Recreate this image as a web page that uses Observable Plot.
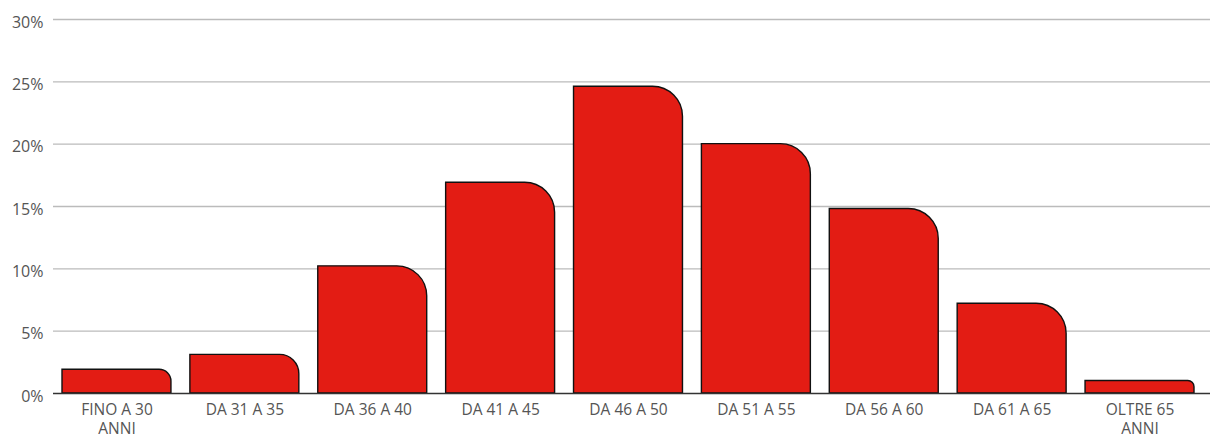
<!DOCTYPE html>
<html>
<head>
<meta charset="utf-8">
<script src="https://cdn.jsdelivr.net/npm/d3@7"></script>
<script src="https://cdn.jsdelivr.net/npm/@observablehq/plot@0.6"></script>
<style>
  html, body { margin: 0; padding: 0; background: #fff; }
  #chart svg { display: block; }
</style>
</head>
<body>
<div id="chart"></div>
<script>
const categories = ["FINO A 30\nANNI", "DA 31 A 35", "DA 36 A 40", "DA 41 A 45", "DA 46 A 50", "DA 51 A 55", "DA 56 A 60", "DA 61 A 65", "OLTRE 65\nANNI"];
const values = [1.9, 3.1, 10.2, 16.9, 24.6, 20.0, 14.8, 7.2, 1.0];
const yTicks = [0, 5, 10, 15, 20, 25, 30];

const data = categories.map((c, i) => ({category: c, value: values[i]}));

function roundedTopRight(index, scales, vals, dimensions, context, next) {
  const g = d3.create("svg:g");
  const xs = vals.x, y1 = vals.y1, y2 = vals.y2;
  const bw = typeof scales.x.bandwidth === "function" ? scales.x.bandwidth() : scales.scales.x.bandwidth;
  for (const i of index) {
    const x0 = xs[i], x1 = xs[i] + bw;
    const top = Math.min(y1[i], y2[i]), bottom = Math.max(y1[i], y2[i]);
    const r = Math.min(30, (bottom - top) / 2, bw / 2);
    g.append("path")
      .attr("d", `M${x0},${bottom}V${top}H${x1 - r}A${r},${r} 0 0 1 ${x1},${top + r}V${bottom}Z`)
      .attr("fill", "#e31c14")
      .attr("stroke", "#111")
      .attr("stroke-width", 1.4);
  }
  return g.node();
}

const chart = Plot.plot({
  width: 1210,
  height: 434,
  marginLeft: 53,
  marginRight: 0,
  marginTop: 19,
  marginBottom: 41,
  style: {fontFamily: "'Open Sans', sans-serif", fontSize: "15px", color: "#555", background: "#fff"},
  x: {domain: categories, range: [62, 1194], paddingInner: 0.148, paddingOuter: 0, round: false, label: null},
  y: {domain: [0, 30], label: null},
  marks: [
    Plot.ruleY(yTicks.filter(d => d > 0), {stroke: "#bbb", strokeWidth: 1.3, strokeOpacity: 1}),
    Plot.barY(data, {x: "category", y: "value", render: roundedTopRight}),
    Plot.ruleY([0], {stroke: "#333", strokeWidth: 1.5}),
    Plot.axisY({ticks: yTicks, tickSize: 0, tickPadding: 10, tickFormat: d => d + "%", fontSize: 16, fill: "#555", dy: 3, label: null}),
    Plot.axisX({tickSize: 0, tickPadding: 8, fontSize: 15.5, fill: "#555", lineHeight: 1.22, label: null})
  ]
});
document.getElementById("chart").appendChild(chart);
</script>
</body>
</html>
